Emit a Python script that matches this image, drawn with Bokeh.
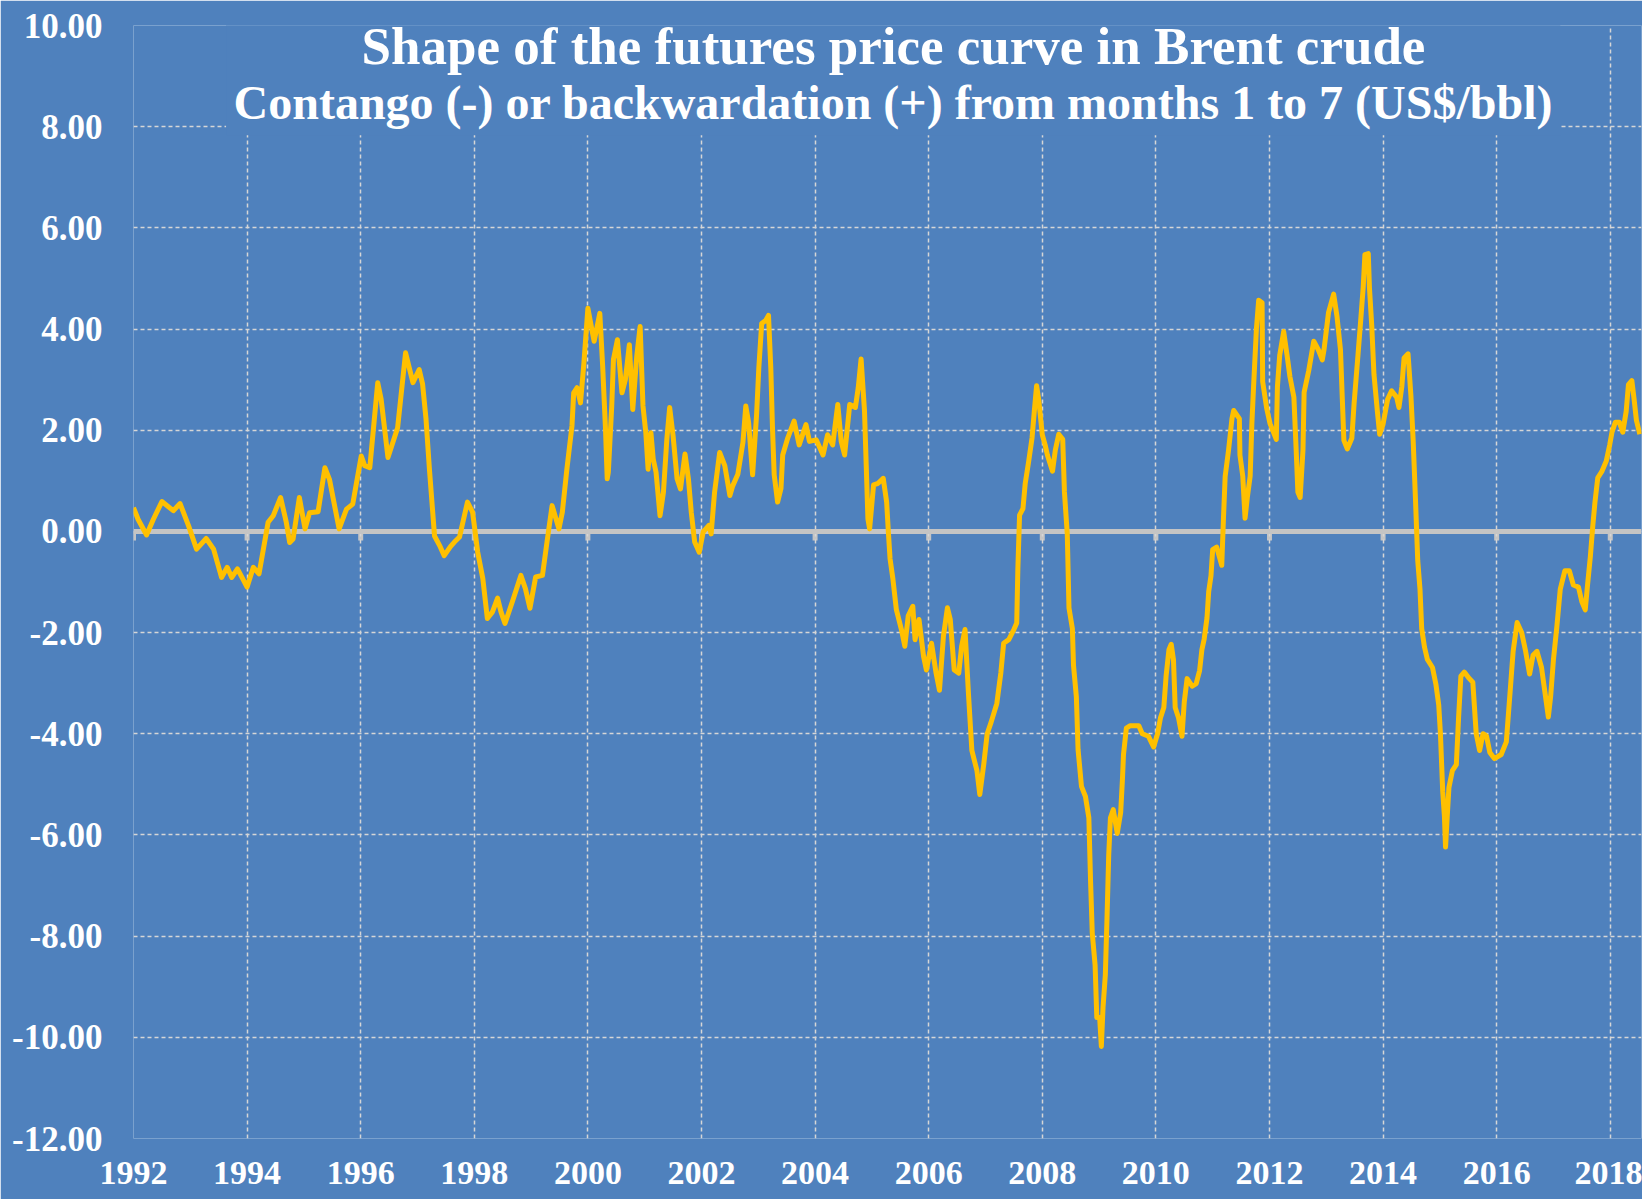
from bokeh.plotting import figure
from bokeh.models import FixedTicker, PrintfTickFormatter, Span, Label
from bokeh.embed import file_html
from bokeh.resources import INLINE

# ---------------- data (decimal year, US$/bbl spread month1 - month7) ----------------
t_1992_1998 = [1992.00, 1992.08, 1992.23, 1992.35, 1992.50, 1992.70, 1992.82, 1992.97, 1993.11, 1993.28,
               1993.41, 1993.55, 1993.65, 1993.73, 1993.83, 1993.91, 1994.00, 1994.11, 1994.21, 1994.37,
               1994.46, 1994.59, 1994.69, 1994.75, 1994.81, 1994.92, 1995.02, 1995.10, 1995.25, 1995.37,
               1995.45, 1995.62, 1995.75, 1995.86, 1996.01, 1996.07, 1996.16, 1996.30, 1996.36, 1996.48,
               1996.65, 1996.79, 1996.92, 1997.03, 1997.09, 1997.15, 1997.21, 1997.30, 1997.39, 1997.47,
               1997.58, 1997.65, 1997.74, 1997.88, 1997.97, 1998.06, 1998.15, 1998.23, 1998.32, 1998.41,
               1998.47, 1998.54, 1998.67, 1998.82, 1998.90, 1998.98]
v_1992_1998 = [0.47, 0.24, -0.07, 0.24, 0.59, 0.41, 0.55, 0.11, -0.35, -0.14,
               -0.35, -0.91, -0.71, -0.91, -0.74, -0.91, -1.10, -0.71, -0.84, 0.18,
               0.31, 0.67, 0.18, -0.22, -0.15, 0.67, 0.05, 0.37, 0.39, 1.26,
               1.03, 0.05, 0.44, 0.54, 1.49, 1.30, 1.26, 2.94, 2.61, 1.46,
               2.05, 3.53, 2.94, 3.20, 2.91, 2.22, 1.23, -0.09, -0.28, -0.48,
               -0.30, -0.21, -0.11, 0.58, 0.38, -0.41, -0.93, -1.72, -1.59, -1.32,
               -1.59, -1.82, -1.39, -0.87, -1.13, -1.52]

t_1999_2003 = [1999.08, 1999.20, 1999.28, 1999.37, 1999.49, 1999.55, 1999.63, 1999.72, 1999.75, 1999.81,
               1999.87, 1999.93, 2000.00, 2000.07, 2000.11, 2000.21, 2000.26, 2000.31, 2000.34, 2000.36,
               2000.42, 2000.45, 2000.52, 2000.60, 2000.66, 2000.73, 2000.79, 2000.86, 2000.92, 2000.97,
               2001.02, 2001.06, 2001.11, 2001.15, 2001.20, 2001.27, 2001.33, 2001.39, 2001.44, 2001.50,
               2001.57, 2001.63, 2001.71, 2001.77, 2001.82, 2001.88, 2001.96, 2002.03, 2002.13, 2002.17,
               2002.23, 2002.32, 2002.41, 2002.50, 2002.55, 2002.64, 2002.73, 2002.78, 2002.83, 2002.90,
               2002.97, 2003.01, 2003.06, 2003.13, 2003.18, 2003.22, 2003.25, 2003.28, 2003.34, 2003.40,
               2003.43, 2003.52, 2003.63, 2003.72, 2003.84, 2003.90]
v_1999_2003 = [-0.90, -0.87, -0.21, 0.51, 0.05, 0.38, 1.23, 2.09, 2.74, 2.84,
               2.54, 3.33, 4.41, 3.99, 3.76, 4.31, 3.27, 2.02, 1.04, 1.17,
               2.48, 3.40, 3.79, 2.74, 3.00, 3.69, 2.41, 3.46, 4.05, 2.48,
               1.95, 1.23, 1.95, 1.43, 1.17, 0.31, 0.77, 1.82, 2.45, 1.89,
               1.04, 0.84, 1.53, 1.04, 0.38, -0.21, -0.41, -0.01, 0.12, -0.05,
               0.77, 1.56, 1.30, 0.71, 0.90, 1.13, 1.76, 2.48, 2.15, 1.12,
               2.31, 3.24, 4.11, 4.17, 4.27, 3.24, 2.05, 1.12, 0.58, 0.85,
               1.51, 1.85, 2.18, 1.71, 2.11, 1.78]

t_2004_2009 = [2004.02, 2004.14, 2004.22, 2004.31, 2004.40, 2004.46, 2004.52, 2004.61, 2004.71, 2004.76,
               2004.81, 2004.87, 2004.90, 2004.93, 2004.96, 2005.03, 2005.11, 2005.20, 2005.26, 2005.29,
               2005.32, 2005.37, 2005.43, 2005.52, 2005.58, 2005.64, 2005.72, 2005.76, 2005.83, 2005.91,
               2005.96, 2006.05, 2006.13, 2006.19, 2006.26, 2006.33, 2006.38, 2006.45, 2006.53, 2006.58,
               2006.64, 2006.70, 2006.76, 2006.85, 2006.90, 2006.97, 2007.03, 2007.10, 2007.20, 2007.27,
               2007.32, 2007.41, 2007.50, 2007.55, 2007.57, 2007.60, 2007.66, 2007.70, 2007.76, 2007.82,
               2007.86, 2007.90, 2007.94, 2008.00, 2008.05, 2008.09, 2008.18, 2008.23, 2008.29, 2008.36,
               2008.39, 2008.44, 2008.47, 2008.53, 2008.55, 2008.60, 2008.63, 2008.69, 2008.76, 2008.82,
               2008.85, 2008.88, 2008.93, 2008.96, 2009.01, 2009.04, 2009.07, 2009.11, 2009.14, 2009.17,
               2009.20, 2009.25, 2009.32, 2009.38, 2009.41, 2009.43, 2009.48, 2009.55, 2009.70, 2009.76,
               2009.87, 2009.96]
v_2004_2009 = [1.81, 1.51, 1.91, 1.71, 2.51, 1.78, 1.51, 2.51, 2.45, 2.84,
               3.41, 2.38, 1.32, 0.25, 0.05, 0.92, 0.95, 1.05, 0.58, -0.01,
               -0.54, -0.94, -1.54, -1.94, -2.27, -1.67, -1.48, -2.14, -1.74, -2.47,
               -2.74, -2.21, -2.80, -3.14, -2.07, -1.51, -1.74, -2.74, -2.80, -2.27,
               -1.94, -3.20, -4.33, -4.73, -5.20, -4.60, -4.00, -3.77, -3.40, -2.80,
               -2.21, -2.14, -1.94, -1.81, -0.74, 0.32, 0.45, 0.95, 1.38, 1.85,
               2.38, 2.88, 2.58, 1.91, 1.71, 1.51, 1.19, 1.61, 1.92, 1.82,
               0.78, -0.05, -1.51, -1.92, -2.65, -3.27, -4.31, -5.04, -5.24, -5.66,
               -6.91, -7.94, -8.57, -9.61, -9.61, -10.18, -9.40, -8.77, -7.63, -6.39,
               -5.66, -5.50, -5.97, -5.56, -4.93, -4.41, -3.89, -3.84, -3.84, -4.00,
               -4.05, -4.26]

t_2010_2018 = [2010.03, 2010.08, 2010.14, 2010.18, 2010.23, 2010.27, 2010.31, 2010.34, 2010.40, 2010.46,
               2010.50, 2010.55, 2010.64, 2010.71, 2010.77, 2010.81, 2010.85, 2010.90, 2010.93, 2010.97,
               2011.00, 2011.07, 2011.16, 2011.19, 2011.22, 2011.28, 2011.34, 2011.37, 2011.47, 2011.48,
               2011.53, 2011.57, 2011.61, 2011.66, 2011.69, 2011.72, 2011.77, 2011.81, 2011.87, 2011.88,
               2011.95, 2012.01, 2012.12, 2012.14, 2012.18, 2012.25, 2012.31, 2012.36, 2012.43, 2012.47,
               2012.50, 2012.54, 2012.59, 2012.61, 2012.69, 2012.78, 2012.86, 2012.93, 2012.96, 2013.04,
               2013.13, 2013.19, 2013.25, 2013.28, 2013.31, 2013.37, 2013.45, 2013.49, 2013.56, 2013.60,
               2013.65, 2013.68, 2013.74, 2013.76, 2013.80, 2013.84, 2013.90, 2013.94, 2014.00, 2014.08,
               2014.15, 2014.24, 2014.28, 2014.33, 2014.37, 2014.44, 2014.49, 2014.53, 2014.57, 2014.61,
               2014.65, 2014.68, 2014.73, 2014.78, 2014.87, 2014.93, 2014.98, 2015.01, 2015.05, 2015.08,
               2015.10, 2015.13, 2015.16, 2015.22, 2015.29, 2015.33, 2015.37, 2015.43, 2015.51, 2015.58,
               2015.64, 2015.70, 2015.76, 2015.82, 2015.88, 2015.96, 2016.08, 2016.17, 2016.23, 2016.29,
               2016.36, 2016.44, 2016.51, 2016.58, 2016.64, 2016.71, 2016.79, 2016.85, 2016.91, 2016.95,
               2017.00, 2017.06, 2017.12, 2017.20, 2017.28, 2017.35, 2017.44, 2017.50, 2017.56, 2017.60,
               2017.65, 2017.69, 2017.73, 2017.78, 2017.85, 2017.93, 2017.99, 2018.03, 2018.09, 2018.16,
               2018.22, 2018.28, 2018.32, 2018.38, 2018.42, 2018.46, 2018.52]
v_2010_2018 = [-4.00, -3.69, -3.48, -2.86, -2.34, -2.23, -2.54, -3.48, -3.69, -4.05,
               -3.37, -2.91, -3.06, -3.01, -2.75, -2.34, -2.13, -1.71, -1.19, -0.88,
               -0.36, -0.31, -0.67, 0.26, 1.09, 1.61, 2.23, 2.39, 2.23, 1.51,
               1.09, 0.26, 0.67, 1.09, 2.13, 2.86, 4.00, 4.57, 4.52, 2.96,
               2.44, 2.13, 1.82, 2.86, 3.48, 3.95, 3.48, 3.06, 2.65, 1.61,
               0.78, 0.67, 1.61, 2.75, 3.17, 3.76, 3.59, 3.39, 3.59, 4.33,
               4.69, 4.24, 3.59, 2.69, 1.80, 1.63, 1.84, 2.53, 3.51, 4.08,
               4.82, 5.47, 5.49, 4.82, 4.08, 3.10, 2.37, 1.92, 2.12, 2.61,
               2.78, 2.65, 2.45, 2.86, 3.43, 3.51, 2.69, 1.80, 0.65, -0.57,
               -1.14, -1.92, -2.29, -2.53, -2.69, -3.02, -3.43, -4.00, -5.14, -5.63,
               -6.24, -5.63, -5.06, -4.73, -4.61, -3.67, -2.86, -2.78, -2.90, -2.98,
               -4.00, -4.33, -4.00, -4.04, -4.37, -4.49, -4.41, -4.16, -3.27, -2.37,
               -1.80, -2.00, -2.37, -2.82, -2.45, -2.37, -2.69, -3.18, -3.67, -3.27,
               -2.53, -1.88, -1.14, -0.78, -0.78, -1.06, -1.10, -1.39, -1.55, -1.06,
               -0.49, 0.08, 0.57, 1.06, 1.18, 1.39, 1.71, 1.96, 2.16, 2.16,
               1.96, 2.37, 2.90, 2.98, 2.61, 2.20, 1.92]

year_ticks = [1992, 1994, 1996, 1998, 2000, 2002, 2004, 2006, 2008, 2010, 2012, 2014, 2016, 2018]
value_ticks = [-12, -10, -8, -6, -4, -2, 0, 2, 4, 6, 8, 10]

title_line1 = "Shape of the futures price curve in Brent crude"
title_line2 = "Contango (-) or backwardation (+) from months 1 to 7 (US$/bbl)"

periods = [(t_1992_1998, v_1992_1998), (t_1999_2003, v_1999_2003),
           (t_2004_2009, v_2004_2009), (t_2010_2018, v_2010_2018)]
dates, spread = [], []
for tt, vv in periods:
    assert len(tt) == len(vv), (len(tt), len(vv))
    dates += tt
    spread += vv

# ---------------- styling ----------------
BG = "#4F81BD"
GOLD = "#FFC000"
GRID = "#D6D6D6"
ZERO = "#C4C4C4"
FONT = "Liberation Serif"

p = figure(width=1642, height=1199, output_backend="svg", toolbar_location=None,
           x_range=(1992, 2018.55), y_range=(value_ticks[0], value_ticks[-1]),
           background_fill_color=BG, border_fill_color=BG,
           min_border_left=133, min_border_right=1, min_border_top=25, min_border_bottom=61)
p.outline_line_color = None

# grids
p.xgrid.ticker = FixedTicker(ticks=year_ticks)
p.ygrid.ticker = FixedTicker(ticks=value_ticks)
for g in (p.xgrid, p.ygrid):
    g.grid_line_color = GRID
    g.grid_line_dash = "4 3"
    g.grid_line_width = 1.5

# axes
p.xaxis.ticker = FixedTicker(ticks=year_ticks)
p.yaxis.ticker = FixedTicker(ticks=value_ticks)
p.xaxis.formatter = PrintfTickFormatter(format="%d")
p.yaxis.formatter = PrintfTickFormatter(format="%.2f")
for ax in (p.xaxis, p.yaxis):
    ax.axis_line_color = None
    ax.major_tick_line_color = None
    ax.minor_tick_line_color = None
    ax.major_tick_out = 0
    ax.major_tick_in = 0
    ax.minor_tick_out = 0
    ax.major_label_text_font = FONT
    ax.major_label_text_font_style = "bold"
    ax.major_label_text_color = "white"
p.xaxis.major_label_text_font_size = "34px"
p.yaxis.major_label_text_font_size = "35px"
p.xaxis.major_label_standoff = 23
p.yaxis.major_label_standoff = 31

# zero line with small hanging ticks
p.add_layout(Span(location=0, dimension="width", line_color=ZERO, line_width=5, level="underlay"))
p.segment(x0=year_ticks, y0=[0] * len(year_ticks), x1=year_ticks, y1=[-0.18] * len(year_ticks),
          line_color=ZERO, line_width=5, level="underlay")

# title panel (hides the grid behind the title)
p.quad(left=[1993.63], right=[2017.12], bottom=[7.83], top=[10.05],
       fill_color=BG, fill_alpha=1.0, line_color=None)

# data line
p.line(dates, spread, line_color=GOLD, line_width=5, line_join="round")

p.add_layout(Label(x=2005.38, y=9.59, text=title_line1, text_align="center", text_baseline="alphabetic",
                   text_font=FONT, text_font_style="bold", text_font_size="53px", text_color="white"))
p.add_layout(Label(x=2005.38, y=8.47, text=title_line2, text_align="center", text_baseline="alphabetic",
                   text_font=FONT, text_font_style="bold", text_font_size="48px", text_color="white"))

open("out.html", "w").write(file_html(p, INLINE))
